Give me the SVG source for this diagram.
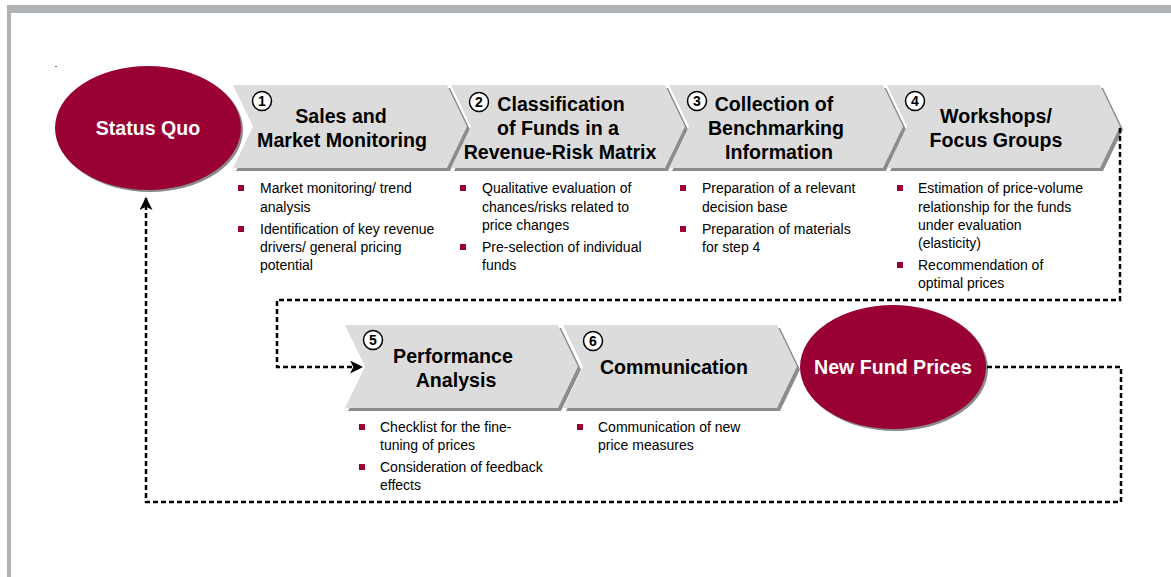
<svg xmlns="http://www.w3.org/2000/svg" width="1171" height="577" viewBox="0 0 1171 577">
  <style>
    .frame { fill: #b1b4b7; }
    .chev { fill: #dcdcdc; }
    .chev-shadow { fill: #8c8c8c; }
    .oval { fill: #990033; }
    .oval-shadow { fill: #8a8a8a; }
    .num-ring { fill: #ffffff; stroke: #000000; stroke-width: 1.5; }
    .num { font-family: "Liberation Sans", Arial, sans-serif; font-weight: bold; font-size: 14px; text-anchor: middle; fill: #000; }
    .title { font-family: "Liberation Sans", Arial, sans-serif; font-weight: bold; font-size: 19.6px; text-anchor: middle; fill: #000; }
    .oval-label { font-family: "Liberation Sans", Arial, sans-serif; font-weight: bold; font-size: 19.6px; text-anchor: middle; fill: #ffffff; }
    .bullet { fill: #990033; }
    .item { font-family: "Liberation Sans", Arial, sans-serif; font-size: 14px; fill: #000; }
    .flow { fill: none; stroke: #000; stroke-width: 2.5; stroke-dasharray: 5 3; }
  </style>
  <defs>
    <marker id="arrow" viewBox="0 0 12 12" refX="11" refY="6" markerWidth="13" markerHeight="13" markerUnits="userSpaceOnUse" orient="auto">
      <path d="M0,0 L12,6 L0,12 L3,6 Z" fill="#000"/>
    </marker>
  </defs>

  <!-- page frame -->
  <rect class="frame" x="7" y="5" width="1164" height="8"/>
  <rect class="frame" x="7" y="5" width="4" height="572"/>
  <rect x="55" y="66" width="2" height="1" fill="#666"/>

  <!-- Status Quo -->
  <g id="status-quo">
    <ellipse class="oval-shadow" cx="150" cy="130" rx="93" ry="62"/>
    <ellipse class="oval" cx="148" cy="128" rx="93" ry="62"/>
    <text class="oval-label" x="148" y="135">Status Quo</text>
  </g>

  <!-- Step 1 -->
  <g id="step1">
    <polygon class="chev-shadow" points="236,88 450,88 470,129.5 450,171 236,171 256,129.5"/>
    <polygon class="chev" points="233,85 447,85 467,126.5 447,168 233,168 253,126.5"/>
    <circle class="num-ring" cx="262" cy="101" r="9.5"/>
    <text class="num" x="262" y="106">1</text>
    <text class="title" x="341" y="123">Sales and</text>
    <text class="title" x="342" y="147">Market Monitoring</text>
    <rect class="bullet" x="238" y="185" width="6" height="6"/>
    <text class="item" x="260" y="193">Market monitoring/ trend</text>
    <text class="item" x="260" y="212">analysis</text>
    <rect class="bullet" x="238" y="226" width="6" height="6"/>
    <text class="item" x="260" y="234">Identification of key revenue</text>
    <text class="item" x="260" y="252">drivers/ general pricing</text>
    <text class="item" x="260" y="270">potential</text>
  </g>

  <!-- Step 2 -->
  <g id="step2">
    <polygon class="chev-shadow" points="454,88 668,88 688,129.5 668,171 454,171 474,129.5"/>
    <polygon class="chev" points="451,85 665,85 685,126.5 665,168 451,168 471,126.5"/>
    <circle class="num-ring" cx="479" cy="102" r="9.5"/>
    <text class="num" x="479" y="107">2</text>
    <text class="title" x="561" y="111">Classification</text>
    <text class="title" x="558" y="135">of Funds in a</text>
    <text class="title" x="560" y="159">Revenue-Risk Matrix</text>
    <rect class="bullet" x="460" y="185" width="6" height="6"/>
    <text class="item" x="482" y="193">Qualitative evaluation of</text>
    <text class="item" x="482" y="212">chances/risks related to</text>
    <text class="item" x="482" y="230">price changes</text>
    <rect class="bullet" x="460" y="244" width="6" height="6"/>
    <text class="item" x="482" y="252">Pre-selection of individual</text>
    <text class="item" x="482" y="270">funds</text>
  </g>

  <!-- Step 3 -->
  <g id="step3">
    <polygon class="chev-shadow" points="672,88 886,88 906,129.5 886,171 672,171 692,129.5"/>
    <polygon class="chev" points="669,85 883,85 903,126.5 883,168 669,168 689,126.5"/>
    <circle class="num-ring" cx="697" cy="101" r="9.5"/>
    <text class="num" x="697" y="106">3</text>
    <text class="title" x="774" y="111">Collection of</text>
    <text class="title" x="776" y="135">Benchmarking</text>
    <text class="title" x="779" y="159">Information</text>
    <rect class="bullet" x="680" y="185" width="6" height="6"/>
    <text class="item" x="702" y="193">Preparation of a relevant</text>
    <text class="item" x="702" y="212">decision base</text>
    <rect class="bullet" x="680" y="226" width="6" height="6"/>
    <text class="item" x="702" y="234">Preparation of materials</text>
    <text class="item" x="702" y="252">for step 4</text>
  </g>

  <!-- Step 4 -->
  <g id="step4">
    <polygon class="chev-shadow" points="890,88 1103,88 1123,129.5 1103,171 890,171 910,129.5"/>
    <polygon class="chev" points="887,85 1100,85 1120,126.5 1100,168 887,168 907,126.5"/>
    <circle class="num-ring" cx="915" cy="101" r="9.5"/>
    <text class="num" x="915" y="106">4</text>
    <text class="title" x="996" y="123">Workshops/</text>
    <text class="title" x="996" y="147">Focus Groups</text>
    <rect class="bullet" x="897" y="185" width="6" height="6"/>
    <text class="item" x="918" y="193">Estimation of price-volume</text>
    <text class="item" x="918" y="212">relationship for the funds</text>
    <text class="item" x="918" y="230">under evaluation</text>
    <text class="item" x="918" y="248">(elasticity)</text>
    <rect class="bullet" x="897" y="262" width="6" height="6"/>
    <text class="item" x="918" y="270">Recommendation of</text>
    <text class="item" x="918" y="288">optimal prices</text>
  </g>

  <!-- Step 5 -->
  <g id="step5">
    <polygon class="chev-shadow" points="348,328 561,328 581,369.5 561,411 348,411 368,369.5"/>
    <polygon class="chev" points="345,325 558,325 578,366.5 558,408 345,408 365,366.5"/>
    <circle class="num-ring" cx="373" cy="340" r="9.5"/>
    <text class="num" x="373" y="345">5</text>
    <text class="title" x="453" y="363">Performance</text>
    <text class="title" x="456" y="387">Analysis</text>
    <rect class="bullet" x="359" y="424" width="6" height="6"/>
    <text class="item" x="380" y="432">Checklist for the fine-</text>
    <text class="item" x="380" y="450">tuning of prices</text>
    <rect class="bullet" x="359" y="464" width="6" height="6"/>
    <text class="item" x="380" y="472">Consideration of feedback</text>
    <text class="item" x="380" y="490">effects</text>
  </g>

  <!-- Step 6 -->
  <g id="step6">
    <polygon class="chev-shadow" points="566,328 780,328 800,369.5 780,411 566,411 586,369.5"/>
    <polygon class="chev" points="563,325 777,325 797,366.5 777,408 563,408 583,366.5"/>
    <circle class="num-ring" cx="593" cy="341" r="9.5"/>
    <text class="num" x="593" y="346">6</text>
    <text class="title" x="674" y="374">Communication</text>
    <rect class="bullet" x="577" y="424" width="6" height="6"/>
    <text class="item" x="598" y="432">Communication of new</text>
    <text class="item" x="598" y="450">price measures</text>
  </g>

  <!-- New Fund Prices -->
  <g id="new-fund-prices">
    <ellipse class="oval-shadow" cx="895" cy="369" rx="93" ry="62"/>
    <ellipse class="oval" cx="893" cy="367" rx="93" ry="62"/>
    <text class="oval-label" x="893" y="374">New Fund Prices</text>
  </g>

  <!-- connectors -->
  <g id="connectors">
    <path class="flow" d="M1120,128 V300 H277 V367 H362" marker-end="url(#arrow)"/>
    <path class="flow" d="M987,367 H1121 V502 H146 V198" marker-end="url(#arrow)"/>
  </g>
</svg>
